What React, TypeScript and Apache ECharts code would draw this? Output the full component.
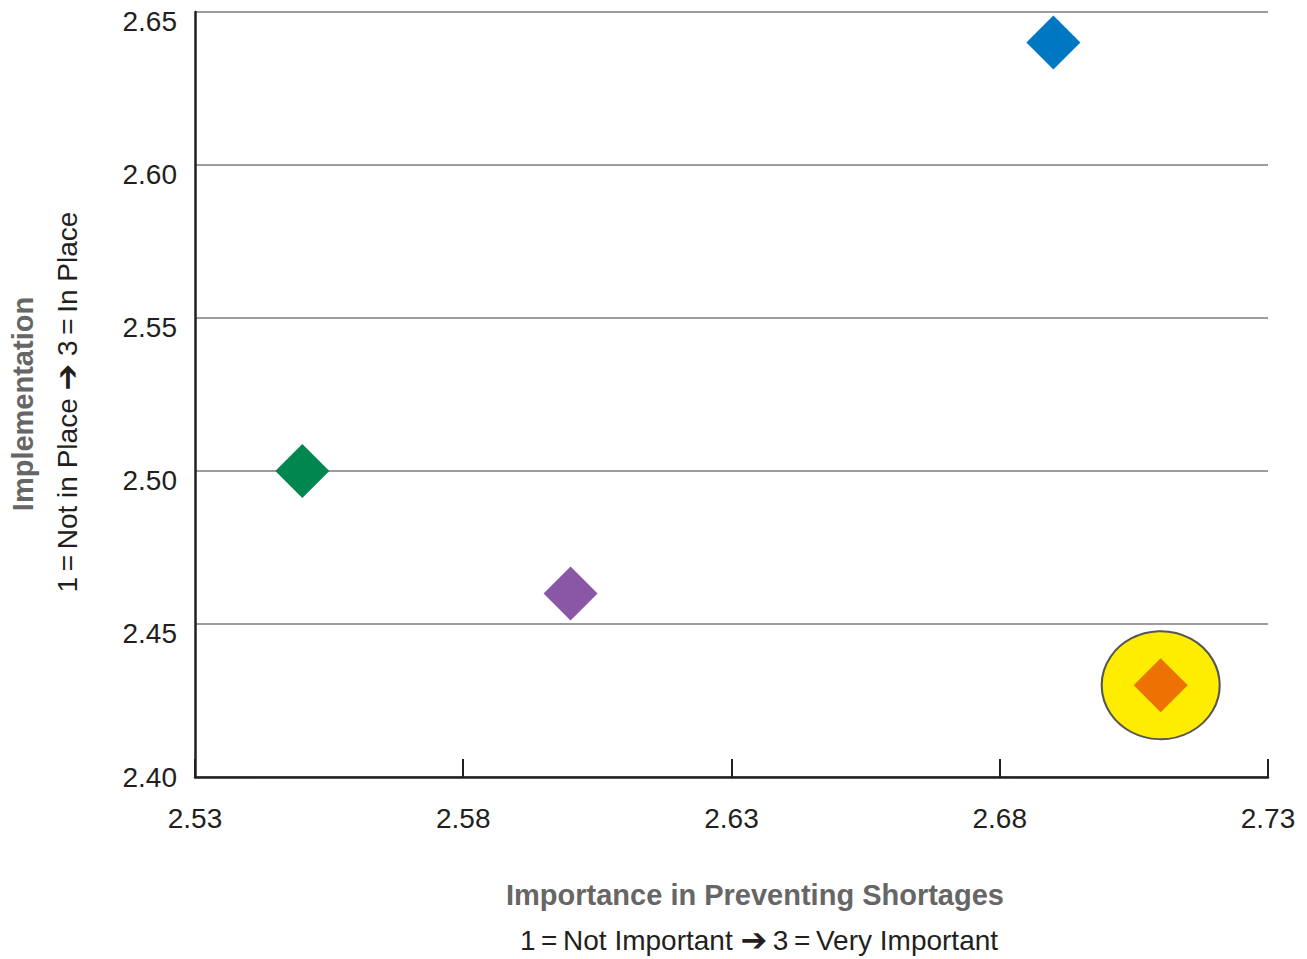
import React, { useEffect, useRef } from "react";
import * as echarts from "echarts";

const X_MIN = 2.53;
const X_MAX = 2.73;
const Y_MIN = 2.4;
const Y_MAX = 2.65;
const STEP = 0.05;

const pointNames = ["Blue", "Green", "Purple", "Orange"];
const importance = [2.69, 2.55, 2.6, 2.71];
const implementation = [2.64, 2.5, 2.46, 2.43];
const pointColors = ["#0077C1", "#00874F", "#8A57A6", "#EE7203"];
const highlightIndex = 3;

const xTitle = "Importance in Preventing Shortages";
const xSubtitle = "{t|1\u2009=\u2009Not Important }{arr|\u2794}{t|\u20093\u2009=\u2009Very Important}";
const yTitle = "Implementation";
const ySubtitle = "{t|1\u2009=\u2009Not in Place }{arr|\u2794}{t| 3\u2009=\u2009In Place}";

const FONT = "'Liberation Sans', Arial, Helvetica, sans-serif";

export default function App() {
  const ref = useRef<HTMLDivElement>(null);
  useEffect(() => {
    if (!ref.current) return;
    const chart = echarts.init(ref.current, undefined, { renderer: "svg" });
    const pts = importance.map((x, i) => ({
      value: [x - X_MIN, implementation[i]],
      name: pointNames[i],
      itemStyle: { color: pointColors[i], opacity: 1 },
    }));
    const subRich = {
      t: { fontFamily: FONT, fontSize: 28, lineHeight: 32, fill: "#231f20" },
      arr: {
        fontFamily: "'DejaVu Sans', sans-serif",
        fontSize: 32,
        lineHeight: 32,
        fontWeight: "bold",
        fill: "#231f20",
      },
    };
    chart.setOption({
      animation: false,
      backgroundColor: "#ffffff",
      grid: { left: 195, right: 39, top: 12, bottom: 182, containLabel: false },
      xAxis: {
        type: "value",
        min: 0,
        max: X_MAX - X_MIN,
        interval: STEP,
        axisLine: { show: true, onZero: false, lineStyle: { color: "#231f20", width: 2.5 } },
        axisTick: { show: true, inside: true, length: 18, lineStyle: { color: "#231f20", width: 2 } },
        splitLine: { show: false },
        axisLabel: {
          color: "#231f20",
          fontFamily: FONT,
          fontSize: 28,
          margin: 27,
          formatter: (v: number) => (v + X_MIN).toFixed(2),
        },
      },
      yAxis: {
        type: "value",
        min: Y_MIN,
        max: Y_MAX,
        interval: STEP,
        axisLine: { show: true, lineStyle: { color: "#231f20", width: 2.5 } },
        axisTick: { show: false },
        splitLine: { show: true, lineStyle: { color: "#9d9d9d", width: 2 } },
        axisLabel: {
          color: "#231f20",
          fontFamily: FONT,
          fontSize: 28,
          margin: 18,
          formatter: (v: number) =>
            Math.abs(v - Y_MIN) < 1e-6 ? `{b|${v.toFixed(2)}}` : `{a|${v.toFixed(2)}}`,
          rich: {
            a: { fontFamily: FONT, fontSize: 28, color: "#231f20", padding: [18, 0, 0, 0] },
            b: { fontFamily: FONT, fontSize: 28, color: "#231f20" },
          },
        },
      },
      graphic: [
        {
          type: "text",
          x: 755,
          y: 895,
          style: {
            text: xTitle,
            fill: "#666666",
            font: `bold 29px ${FONT}`,
            align: "center",
            verticalAlign: "middle",
          },
        },
        {
          type: "text",
          x: 759,
          y: 940,
          style: {
            text: xSubtitle,
            fill: "#231f20",
            font: `28px ${FONT}`,
            align: "center",
            verticalAlign: "middle",
            rich: subRich,
          },
        },
        {
          type: "text",
          x: 23,
          y: 404,
          rotation: Math.PI / 2,
          style: {
            text: yTitle,
            fill: "#666666",
            font: `bold 29px ${FONT}`,
            align: "center",
            verticalAlign: "middle",
          },
        },
        {
          type: "text",
          x: 67,
          y: 402,
          rotation: Math.PI / 2,
          style: {
            text: ySubtitle,
            fill: "#231f20",
            font: `28px ${FONT}`,
            align: "center",
            verticalAlign: "middle",
            rich: subRich,
          },
        },
      ],
      series: [
        {
          type: "scatter",
          name: "highlight",
          symbol: "circle",
          symbolSize: [118, 108],
          silent: true,
          z: 1,
          itemStyle: { color: "#FFED00", borderColor: "#555555", borderWidth: 2, opacity: 1 },
          data: [[importance[highlightIndex] - X_MIN, implementation[highlightIndex]]],
        },
        {
          type: "scatter",
          name: "points",
          symbol: "diamond",
          symbolSize: [54, 54],
          z: 2,
          data: pts,
        },
      ],
    });
    return () => chart.dispose();
  }, []);
  return <div ref={ref} style={{ width: 1307, height: 959, position: "absolute", left: 0, top: 0 }} />;
}
